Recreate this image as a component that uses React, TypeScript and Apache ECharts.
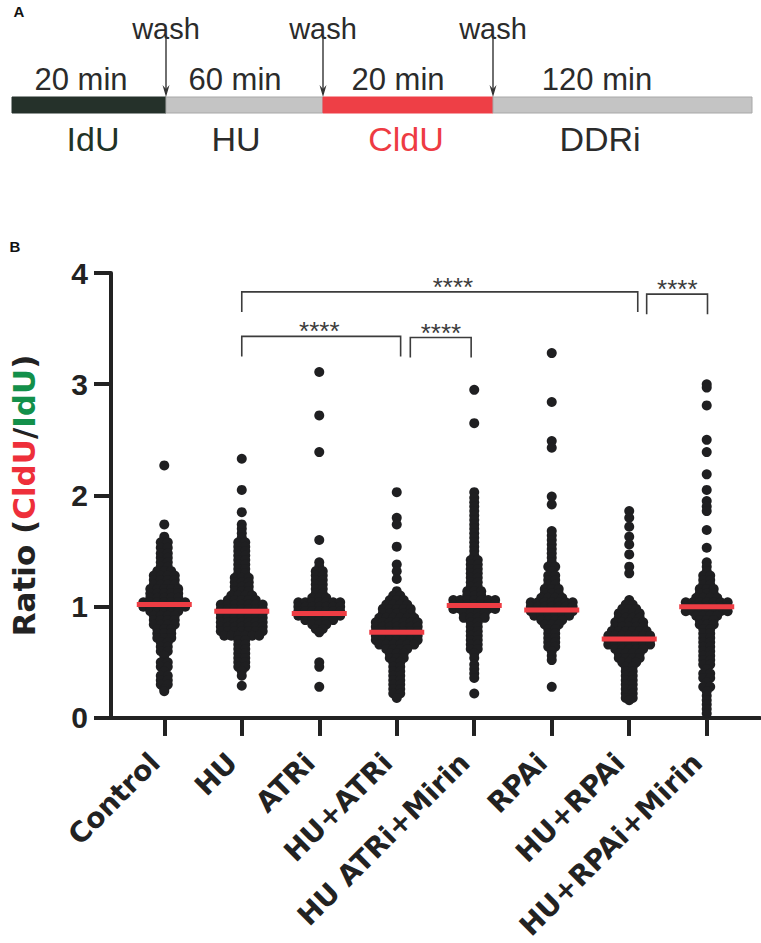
import React, { useEffect, useRef } from 'react';
import * as echarts from 'echarts';

// ---------- Panel B data ----------
const categories = ['Control', 'HU', 'ATRi', 'HU+ATRi', 'HU ATRi+Mirin', 'RPAi', 'HU+RPAi', 'HU+RPAi+Mirin'];
const medians = [1.02, 0.96, 0.94, 0.77, 1.01, 0.97, 0.71, 1.0];
const yTicks = [0, 1, 2, 3, 4];

// Each row: [ratio value, number of fibres drawn side by side at that value]
const controlRows = [
  [2.27, 1], [1.74, 1], [1.63, 1], [1.58, 2], [1.53, 2], [1.48, 2], [1.44, 2], [1.40, 2], [1.36, 2],
  [1.32, 3], [1.28, 4], [1.24, 4], [1.20, 4], [1.16, 5], [1.12, 5], [1.08, 5], [1.04, 7], [1.00, 7],
  [0.96, 5], [0.92, 4], [0.88, 4], [0.84, 4], [0.80, 3], [0.76, 3], [0.72, 3], [0.68, 2], [0.64, 2],
  [0.60, 2], [0.56, 1], [0.50, 2], [0.46, 2], [0.42, 1], [0.38, 2], [0.34, 2], [0.30, 2], [0.26, 1], [0.24, 1],
];
const huRows = [
  [2.33, 1], [2.05, 1], [1.85, 1], [1.74, 1], [1.70, 1], [1.66, 1], [1.62, 1], [1.58, 2], [1.54, 2],
  [1.50, 2], [1.46, 2], [1.42, 2], [1.38, 2], [1.34, 2], [1.30, 2], [1.26, 3], [1.22, 3], [1.18, 3],
  [1.14, 3], [1.10, 4], [1.06, 5], [1.02, 7], [0.98, 7], [0.94, 7], [0.90, 7], [0.86, 7], [0.82, 7],
  [0.78, 7], [0.74, 6], [0.70, 2], [0.66, 2], [0.62, 2], [0.58, 2], [0.54, 2], [0.50, 2], [0.46, 2],
  [0.42, 1], [0.38, 1], [0.29, 1],
];
const atriRows = [
  [3.11, 1], [2.72, 1], [2.39, 1], [1.60, 1], [1.40, 1], [1.36, 1], [1.32, 2], [1.28, 2], [1.24, 2],
  [1.20, 2], [1.16, 2], [1.12, 2], [1.08, 3], [1.04, 7], [1.00, 7], [0.96, 7], [0.92, 7], [0.88, 5],
  [0.84, 3], [0.80, 2], [0.77, 1], [0.50, 1], [0.46, 1], [0.28, 1],
];
const huAtriRows = [
  [2.03, 1], [1.80, 1], [1.74, 1], [1.54, 1], [1.38, 1], [1.32, 1], [1.25, 1], [1.14, 1], [1.10, 2],
  [1.06, 3], [1.02, 4], [0.98, 5], [0.94, 5], [0.90, 6], [0.86, 7], [0.82, 7], [0.78, 7], [0.74, 7],
  [0.70, 7], [0.66, 6], [0.62, 4], [0.58, 3], [0.54, 3], [0.50, 2], [0.46, 2], [0.42, 2], [0.38, 2],
  [0.34, 2], [0.30, 2], [0.26, 2], [0.22, 2], [0.18, 1],
];
const huAtriMirinRows = [
  [2.95, 1], [2.65, 1], [2.03, 1], [1.98, 1], [1.94, 1], [1.90, 1], [1.86, 1], [1.82, 1], [1.78, 1],
  [1.74, 1], [1.70, 1], [1.66, 1], [1.62, 1], [1.58, 1], [1.54, 1], [1.50, 1], [1.46, 1], [1.42, 2],
  [1.38, 2], [1.34, 2], [1.30, 2], [1.26, 2], [1.22, 2], [1.18, 2], [1.14, 3], [1.10, 3], [1.06, 7],
  [1.02, 7], [0.98, 7], [0.94, 4], [0.90, 4], [0.86, 2], [0.82, 2], [0.78, 2], [0.74, 2], [0.70, 2],
  [0.66, 2], [0.62, 2], [0.58, 1], [0.54, 1], [0.48, 1], [0.44, 1], [0.40, 1], [0.36, 1], [0.22, 1],
];
const rpaiRows = [
  [3.28, 1], [2.84, 1], [2.49, 1], [2.43, 1], [1.99, 1], [1.92, 1], [1.68, 1], [1.64, 1], [1.60, 1],
  [1.56, 1], [1.52, 1], [1.48, 1], [1.44, 1], [1.40, 1], [1.36, 2], [1.32, 1], [1.28, 2], [1.24, 2],
  [1.20, 2], [1.16, 3], [1.12, 3], [1.08, 4], [1.04, 7], [1.00, 7], [0.96, 7], [0.92, 6], [0.88, 4],
  [0.84, 3], [0.80, 2], [0.76, 2], [0.72, 2], [0.68, 2], [0.64, 2], [0.60, 1], [0.56, 1], [0.52, 1],
  [0.28, 1],
];
const huRpaiRows = [
  [1.86, 1], [1.80, 1], [1.72, 1], [1.63, 1], [1.56, 1], [1.47, 1], [1.36, 1], [1.30, 1], [1.06, 1],
  [1.02, 2], [0.98, 3], [0.94, 4], [0.90, 4], [0.86, 5], [0.82, 5], [0.78, 6], [0.74, 7], [0.70, 7],
  [0.66, 7], [0.62, 5], [0.58, 4], [0.54, 4], [0.50, 3], [0.46, 2], [0.42, 2], [0.38, 2], [0.34, 2],
  [0.30, 2], [0.26, 2], [0.22, 2], [0.18, 2], [0.16, 1],
];
const huRpaiMirinRows = [
  [3.00, 1], [2.97, 1], [2.81, 1], [2.50, 1], [2.39, 1], [2.19, 1], [2.05, 1], [1.95, 1], [1.90, 1],
  [1.86, 1], [1.69, 1], [1.53, 1], [1.40, 1], [1.36, 1], [1.32, 1], [1.28, 2], [1.24, 2], [1.20, 2],
  [1.16, 3], [1.12, 3], [1.08, 4], [1.04, 7], [1.00, 7], [0.96, 7], [0.92, 4], [0.88, 3], [0.84, 3],
  [0.80, 2], [0.76, 2], [0.72, 2], [0.68, 2], [0.64, 2], [0.60, 2], [0.56, 2], [0.52, 2], [0.48, 2],
  [0.44, 1], [0.40, 2], [0.36, 2], [0.32, 1], [0.28, 2], [0.24, 1], [0.20, 1], [0.16, 1], [0.12, 1],
  [0.08, 1], [0.04, 1],
];
const groupRows = [controlRows, huRows, atriRows, huAtriRows, huAtriMirinRows, rpaiRows, huRpaiRows, huRpaiMirinRows];

// Significance brackets: [left x, right x, top y, leg end y, stars x] in category / ratio units
const brackets = [
  [1.0, 6.11, 3.83, 3.65, 3.725],
  [6.225, 7.01, 3.81, 3.63, 6.62],
  [1.0, 3.05, 3.43, 3.25, 2.0],
  [3.175, 3.96, 3.42, 3.24, 3.57],
];
const bracketLabel = '****';

// ---------- Panel A labels ----------
const timelineAgents = ['IdU', 'HU', 'CldU', 'DDRi'];
const timelineDurations = ['20 min', '60 min', '20 min', '120 min'];
const washLabel = 'wash';

const SWARM_STEP = 0.09; // category units between neighbouring dots
const LABEL_SHIFT = 0.12; // rotated label anchor shift (category units)

function buildSwarm() {
  const pts: number[][] = [];
  groupRows.forEach((rows, gi) => {
    rows.forEach(([v, n]) => {
      for (let k = 0; k < n; k++) {
        pts.push([gi + (k - (n - 1) / 2) * SWARM_STEP, v]);
      }
    });
  });
  return pts;
}

export default function App() {
  const ref = useRef<HTMLDivElement>(null);
  useEffect(() => {
    if (!ref.current) return;
    const chart = echarts.init(ref.current, null, { renderer: 'svg' });
    const sans = 'Liberation Sans, Arial, Helvetica, sans-serif';
    const wide = 'DejaVu Sans, Liberation Sans, Arial, sans-serif';
    const segX = [12, 166, 323, 493, 752];
    const segColors = ['#25312a', '#c4c4c4', '#ee3f46', '#c4c4c4'];
    const durX = [81, 235, 398, 597];
    const agentX = [93, 236, 406, 600];
    const agentColors = ['#1f3326', '#2b2b2b', '#ee3b43', '#2b2b2b'];
    const washX = [166, 323, 493];

    const graphics: any[] = [];
    graphics.push({ type: 'text', x: 19, y: 11, style: { text: 'A', font: `bold 15px ${sans}`, fill: '#111', align: 'center', verticalAlign: 'middle' } });
    graphics.push({ type: 'text', x: 15, y: 246, style: { text: 'B', font: `bold 15px ${sans}`, fill: '#111', align: 'center', verticalAlign: 'middle' } });
    for (let i = 0; i < 4; i++) {
      graphics.push({ type: 'rect', shape: { x: segX[i], y: 97, width: segX[i + 1] - segX[i], height: 16 }, style: { fill: segColors[i], stroke: segColors[i] === '#c4c4c4' ? '#a8a8a8' : segColors[i], lineWidth: 1 } });
      graphics.push({ type: 'text', x: durX[i], y: 79, style: { text: timelineDurations[i], font: `31px ${sans}`, fill: '#2b2b2b', align: 'center', verticalAlign: 'middle' } });
      graphics.push({ type: 'text', x: agentX[i], y: 139, style: { text: timelineAgents[i], font: `34px ${sans}`, fill: agentColors[i], align: 'center', verticalAlign: 'middle' } });
    }
    washX.forEach((x) => {
      graphics.push({ type: 'text', x, y: 29, style: { text: washLabel, font: `29px ${sans}`, fill: '#2b2b2b', align: 'center', verticalAlign: 'middle' } });
      graphics.push({ type: 'line', shape: { x1: x, y1: 37, x2: x, y2: 94 }, style: { stroke: '#333', lineWidth: 1.4 } });
      graphics.push({ type: 'polygon', shape: { points: [[x - 3.5, 85], [x, 97], [x + 3.5, 85], [x, 89]] }, style: { fill: '#333' } });
    });

    chart.setOption({
      animation: false,
      backgroundColor: '#fff',
      grid: { left: 90, right: 1, top: 273, bottom: 225, containLabel: false },
      xAxis: {
        type: 'value',
        min: -0.6875,
        max: 7.6875,
        splitLine: { show: false },
        axisLine: { onZero: false, lineStyle: { color: '#222', width: 4 } },
        axisTick: { show: true, customValues: categories.map((_, i) => i), length: 18, lineStyle: { color: '#222', width: 4 } },
        axisLabel: {
          customValues: categories.map((_, i) => i - LABEL_SHIFT),
          formatter: (v: number) => categories[Math.round(v + LABEL_SHIFT)] ?? '',
          rotate: 45,
          margin: 40,
          fontFamily: wide,
          fontWeight: 'bold',
          fontSize: 28,
          color: '#222',
        },
      },
      yAxis: {
        type: 'value',
        min: 0,
        max: 4,
        interval: 1,
        splitLine: { show: false },
        axisLine: { show: true, onZero: false, lineStyle: { color: '#222', width: 4 } },
        axisTick: { show: true, length: 17, lineStyle: { color: '#222', width: 4 } },
        axisLabel: {
          margin: 23,
          fontFamily: sans,
          fontWeight: 'bold',
          fontSize: 30,
          color: '#222',
          formatter: (v: number) => (yTicks.includes(v) ? String(v) : ''),
        },
        name: 'Ratio ({r|CldU}/{g|IdU})',
        nameLocation: 'middle',
        nameRotate: 90,
        nameGap: 72,
        nameTextStyle: {
          fontFamily: wide,
          fontWeight: 'bold',
          fontSize: 31,
          color: '#222',
          rich: {
            r: { fontFamily: wide, fontWeight: 'bold', fontSize: 31, color: '#ee2f3a' },
            g: { fontFamily: wide, fontWeight: 'bold', fontSize: 31, color: '#13904a' },
          },
        },
      },
      graphic: graphics,
      series: [
        {
          type: 'scatter',
          data: buildSwarm(),
          symbol: 'circle',
          symbolSize: 10,
          itemStyle: { color: '#1f1f21', opacity: 1 },
          silent: true,
          z: 3,
        },
        {
          type: 'scatter',
          data: medians.map((m, i) => [i, m]),
          symbol: 'rect',
          symbolSize: [55, 5],
          itemStyle: { color: '#ee3d44', opacity: 1 },
          silent: true,
          z: 4,
        },
        {
          type: 'custom',
          data: brackets,
          clip: false,
          silent: true,
          z: 5,
          encode: { x: [0, 1, 4], y: [2, 3] },
          renderItem: (params: any, api: any) => {
            const x1 = api.value(0), x2 = api.value(1), yt = api.value(2), yl = api.value(3), xs = api.value(4);
            const a = api.coord([x1, yl]);
            const b = api.coord([x1, yt]);
            const c = api.coord([x2, yt]);
            const d = api.coord([x2, yl]);
            const s = api.coord([xs, yt]);
            return {
              type: 'group',
              children: [
                { type: 'polyline', shape: { points: [a, b, c, d] }, style: { stroke: '#3c3c3c', lineWidth: 1.6, fill: 'none' } },
                { type: 'text', x: s[0], y: s[1] - 5, style: { text: bracketLabel, font: `26px ${sans}`, fill: '#3c3c3c', align: 'center', verticalAlign: 'middle' } },
              ],
            };
          },
        },
      ],
    });
    return () => chart.dispose();
  }, []);
  return <div ref={ref} style={{ position: 'fixed', left: 0, top: 0, width: 761, height: 943, background: '#fff' }} />;
}
